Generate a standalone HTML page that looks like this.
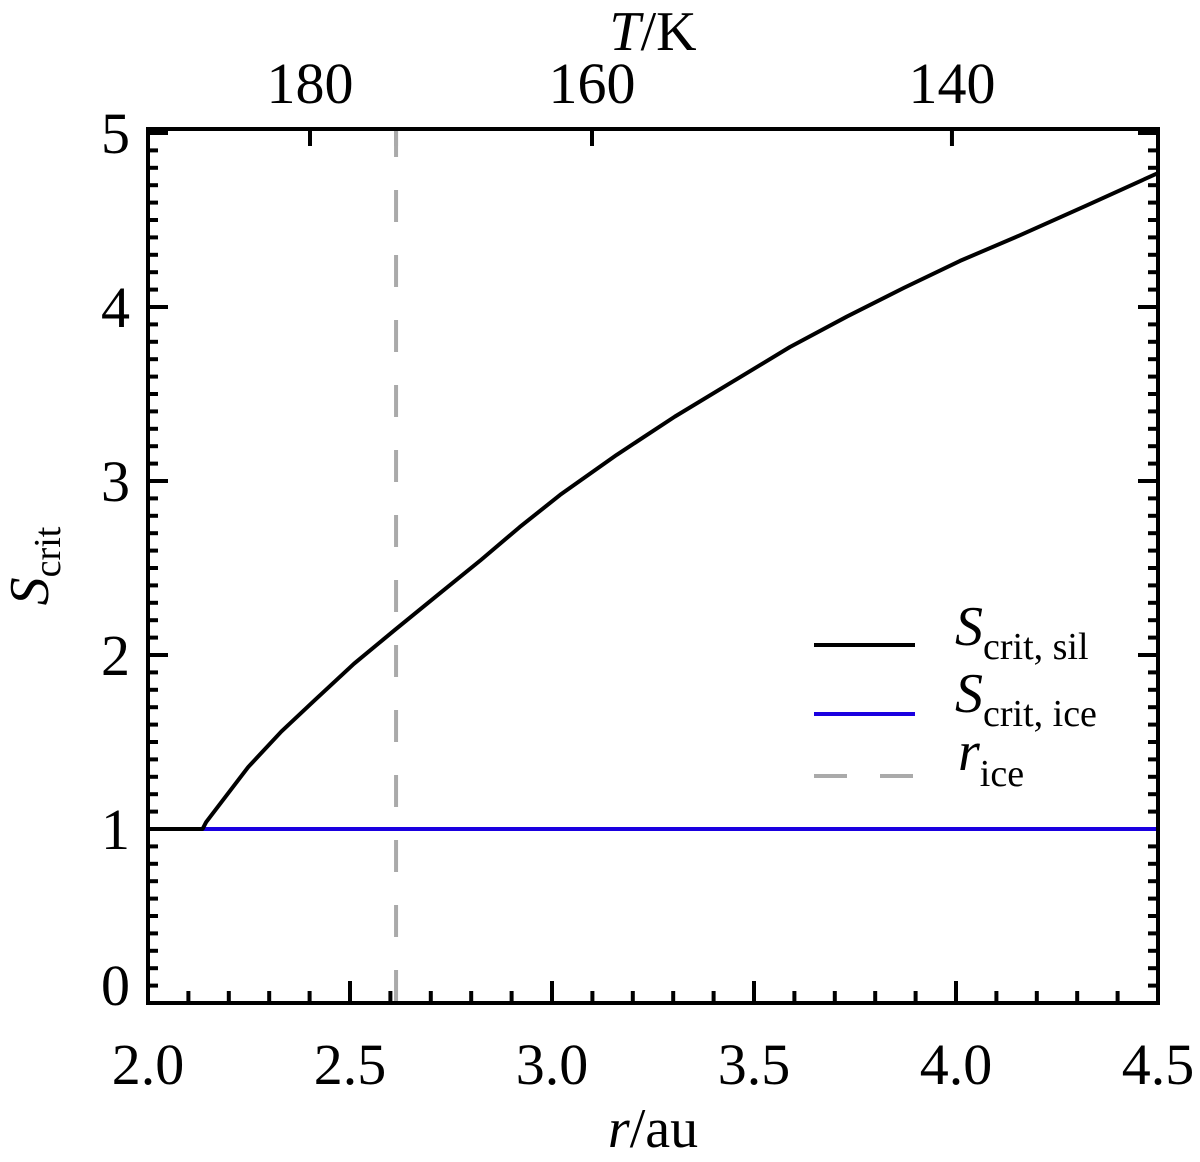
<!DOCTYPE html>
<html><head><meta charset="utf-8"><style>
body{margin:0;background:#fff}
svg,svg text{font-family:"Liberation Serif","Times New Roman",Times,serif}
</style></head><body>
<svg width="1200" height="1157" viewBox="0 0 1200 1157" xmlns="http://www.w3.org/2000/svg">
<g id="g"></g>
<text x="653" y="1147" font-size="56" text-anchor="middle"><tspan font-style="italic">r</tspan>/au</text>
<text x="653" y="50" font-size="56" text-anchor="middle"><tspan font-style="italic">T</tspan>/K</text>
<text transform="translate(48,566) rotate(-90)" font-size="56" text-anchor="middle"><tspan font-style="italic">S</tspan><tspan font-size="38" dy="12">crit</tspan></text>
<g>
<line x1="814" x2="915" y1="645" y2="645" stroke="#000" stroke-width="4"/>
<line x1="814" x2="915" y1="714" y2="714" stroke="#1a00e0" stroke-width="4"/>
<line x1="814" x2="915" y1="776" y2="776" stroke="#aaa" stroke-width="4" stroke-dasharray="33 33"/>
<text x="955" y="645" font-size="56"><tspan font-style="italic">S</tspan><tspan font-size="38" dy="14">crit, sil</tspan></text>
<text x="955" y="712" font-size="56"><tspan font-style="italic">S</tspan><tspan font-size="38" dy="14">crit, ice</tspan></text>
<text x="958" y="770" font-size="56"><tspan font-style="italic">r</tspan><tspan font-size="38" dy="16">ice</tspan></text>
</g>
</svg>
<script>
const rValues=[2.0,2.135,2.144,2.2,2.248,2.33,2.413,2.51,2.611,2.72,2.824,2.92,3.02,3.16,3.304,3.45,3.589,3.73,3.871,4.01,4.156,4.32,4.5];
const silValues=[1.0,1.0,1.04,1.21,1.356,1.56,1.741,1.95,2.144,2.35,2.546,2.735,2.92,3.15,3.37,3.575,3.77,3.945,4.11,4.265,4.41,4.58,4.77];
const iceValues=[1,1];
const iceR=[2.0,4.5];
const rIce=2.614;
const xTicks=["2.0","2.5","3.0","3.5","4.0","4.5"];
const yTicks=["0","1","2","3","4","5"];
const topTickR=[2.401,3.099,3.99];
const topTickLabels=["180","160","140"];
const L=148,R=1158,T=129,B=1003;
const x=v=>L+(v-2)/(2.5)*(R-L);
const y=v=>B-v*174;
const g=document.getElementById('g');
const NS='http://www.w3.org/2000/svg';
function mk(tag,attrs,txt){const e=document.createElementNS(NS,tag);for(const k in attrs)e.setAttribute(k,attrs[k]);if(txt!=null)e.textContent=txt;g.appendChild(e);return e;}
for(let i=0;i<=25;i++){const v=2+i*0.1;const len=i%5==0?22:12;const X=x(v);
 const a=mk('line',{x1:X,x2:X,y1:B,y2:B-len,stroke:'#000','stroke-width':4});
 
 }
for(let i=0;i<=50;i++){const v=i*0.1;const len=i%10==0?20:10;const Y=y(v);
 const a=mk('line',{x1:L,x2:L+len,y1:Y,y2:Y,stroke:'#000','stroke-width':4});
 
 
 const b=mk('line',{x1:R,x2:R-len,y1:Y,y2:Y,stroke:'#000','stroke-width':4});
 
 }
topTickR.forEach((r,i)=>{const X=x(r);
 const a=mk('line',{x1:X,x2:X,y1:T,y2:T+17,stroke:'#000','stroke-width':4});
 
 
 const t=mk('text',{x:X,y:103,'font-size':58,'text-anchor':'middle'},topTickLabels[i]);
 
 });
mk('line',{x1:x(rIce),x2:x(rIce),y1:T,y2:T+17,stroke:'#aaa','stroke-width':4});
xTicks.forEach(s=>{const t=mk('text',{x:x(+s),y:1084,'font-size':58,'text-anchor':'middle'},s);
 
 });
yTicks.forEach(s=>{const v=+s;const t=mk('text',{x:130,y:v==0?1005:y(v)+20,'font-size':58,'text-anchor':'end'},s);
 
 });
const dl=mk('line',{x1:x(rIce),x2:x(rIce),y1:B,y2:T,stroke:'#aaa','stroke-width':4,'stroke-dasharray':'32 33','stroke-dashoffset':'-1'});


const ib=mk('polyline',{points:iceR.map((r,i)=>x(r)+','+y(iceValues[i])).join(' '),fill:'none',stroke:'#1a00e0','stroke-width':4});


const sl=mk('polyline',{points:rValues.map((r,i)=>x(r)+','+y(silValues[i])).join(' '),fill:'none',stroke:'#000','stroke-width':4,'stroke-linejoin':'round'});


const fr=mk('rect',{x:L,y:T,width:R-L,height:B-T,fill:'none',stroke:'#000','stroke-width':4});


</script>
</body></html>
